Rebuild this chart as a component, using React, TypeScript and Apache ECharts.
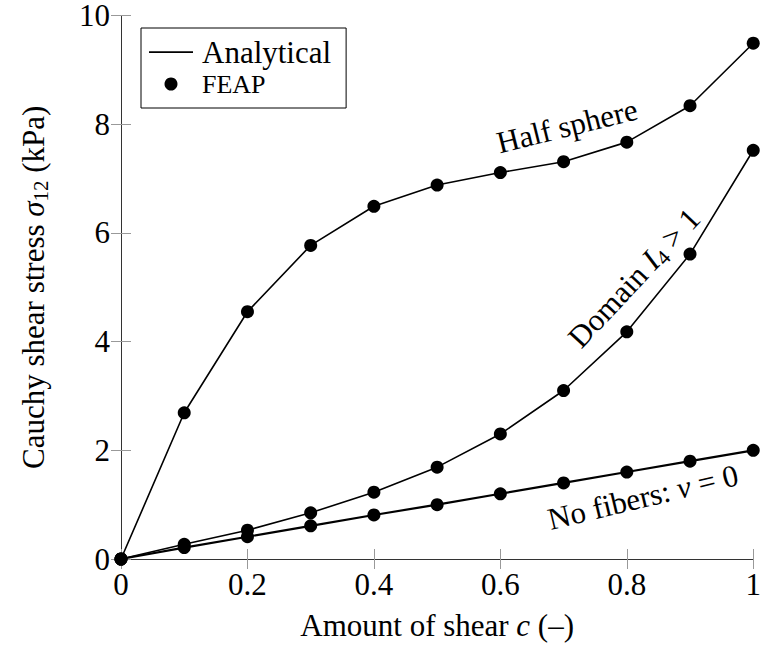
import React, { useEffect, useRef } from "react";
import * as echarts from "echarts";

const shearValues = [0, 0.1, 0.2, 0.3, 0.4, 0.5, 0.6, 0.7, 0.8, 0.9, 1.0];
const halfSphere = [0, 2.69, 4.55, 5.77, 6.49, 6.88, 7.11, 7.31, 7.67, 8.34, 9.49];
const domainI4 = [0, 0.27, 0.53, 0.85, 1.23, 1.69, 2.3, 3.1, 4.18, 5.61, 7.52];
const noFibers = [0, 0.21, 0.41, 0.61, 0.81, 1.0, 1.2, 1.4, 1.6, 1.8, 2.0];

const FONT = "'Liberation Serif', 'Times New Roman', serif";

const pairs = (ys: number[]) => shearValues.map((c, i) => [c, ys[i]]);

export default function App() {
  const ref = useRef<HTMLDivElement>(null);
  useEffect(() => {
    if (!ref.current) return;
    const chart = echarts.init(ref.current, undefined, { renderer: "svg" });
    const frame = { lineStyle: { color: "#333", width: 1 } };
    const ticks = { inside: true, length: 10, lineStyle: { color: "#999", width: 1 } };
    const lab = { fontFamily: FONT, fontSize: 31, color: "#000" };
    const sub = { fontFamily: FONT, fontSize: 21, color: "#000", verticalAlign: "bottom", lineHeight: 22 };
    const ital = { fontFamily: FONT, fontSize: 31, color: "#000", fontStyle: "italic" };
    const lineSeries = (ys: number[], w: number) => ({
      type: "line",
      name: "Analytical",
      data: pairs(ys),
      symbol: "none",
      showSymbol: false,
      clip: false,
      lineStyle: { color: "#000", width: w },
      itemStyle: { color: "#000" },
      z: 2,
    });
    const dotSeries = (ys: number[]) => ({
      type: "scatter",
      name: "FEAP",
      data: pairs(ys),
      symbol: "circle",
      symbolSize: 13,
      clip: false,
      itemStyle: { color: "#000", opacity: 1 },
      z: 3,
    });
    chart.setOption({
      animation: false,
      backgroundColor: "#fff",
      grid: { left: 121, right: 7, top: 12, bottom: 86 },
      legend: {
        orient: "vertical",
        left: 141,
        top: 28,
        itemWidth: 44,
        itemHeight: 13,
        itemGap: 0,
        padding: [8, 15, 8, 8],
        borderColor: "#000",
        borderWidth: 1,
        backgroundColor: "#fff",
        selectedMode: false,
        textStyle: { fontFamily: FONT, fontSize: 31, color: "#000", lineHeight: 32, padding: [0, 0, 0, 4] },
        data: [
          {
            name: "Analytical",
            icon: "path://M0,0L0.01,0L0,0.01ZM0,5.8L44,5.8L44,7.4L0,7.4ZM44,13L43.99,13L44,12.99Z",
            itemStyle: { color: "#000", opacity: 1 },
          },
          { name: "FEAP", icon: "circle", itemStyle: { color: "#000", opacity: 1 }, textStyle: { fontSize: 26 } },
        ],
      },
      xAxis: [
        {
          type: "value",
          position: "bottom",
          min: 0,
          max: 1,
          interval: 0.2,
          axisLine: frame,
          axisTick: ticks,
          splitLine: { show: false },
          axisLabel: { ...lab, margin: 10 },
          name: "Amount of shear {i|c} (–)",
          nameLocation: "middle",
          nameGap: 48,
          nameTextStyle: { ...lab, lineHeight: 36, rich: { i: ital } },
        },
        {
          type: "value",
          position: "top",
          min: 0,
          max: 1,
          interval: 0.2,
          axisLine: frame,
          axisTick: ticks,
          splitLine: { show: false },
          axisLabel: { show: false },
        },
      ],
      yAxis: [
        {
          type: "value",
          position: "left",
          min: 0,
          max: 10,
          interval: 2,
          axisLine: frame,
          axisTick: ticks,
          splitLine: { show: false },
          axisLabel: { ...lab, margin: 11, lineHeight: 24 },
          name: "Cauchy shear stress {i|σ}{s|12} (kPa)",
          nameLocation: "middle",
          nameRotate: 90,
          nameGap: 70,
          nameTextStyle: { ...lab, lineHeight: 36, rich: { i: { ...ital, lineHeight: 36 }, s: sub } },
        },
        {
          type: "value",
          position: "right",
          min: 0,
          max: 10,
          interval: 2,
          axisLine: frame,
          axisTick: ticks,
          splitLine: { show: false },
          axisLabel: { show: false },
        },
      ],
      series: [
        lineSeries(halfSphere, 1.6),
        lineSeries(domainI4, 1.6),
        lineSeries(noFibers, 2.2),
        dotSeries(halfSphere),
        dotSeries(domainI4),
        dotSeries(noFibers),
      ],
      graphic: [
        {
          type: "text",
          x: 567,
          y: 126,
          rotation: (13.9 * Math.PI) / 180,
          z: 10,
          style: { text: "Half sphere", ...lab, align: "center", verticalAlign: "middle" },
        },
        {
          type: "text",
          x: 634,
          y: 278,
          rotation: (47 * Math.PI) / 180,
          z: 10,
          style: {
            text: "Domain {i|I}{s|4} > 1",
            ...lab,
            lineHeight: 36,
            align: "center",
            verticalAlign: "middle",
            rich: { i: { ...ital, lineHeight: 36 }, s: sub },
          },
        },
        {
          type: "text",
          x: 643,
          y: 497,
          rotation: (13.5 * Math.PI) / 180,
          z: 10,
          style: {
            text: "No fibers: {i|ν} = 0",
            ...lab,
            lineHeight: 36,
            align: "center",
            verticalAlign: "middle",
            rich: { i: { ...ital, lineHeight: 36 } },
          },
        },
      ],
    });
    return () => chart.dispose();
  }, []);
  return <div ref={ref} style={{ width: 764, height: 648, position: "absolute", left: 0, top: 0 }} />;
}
